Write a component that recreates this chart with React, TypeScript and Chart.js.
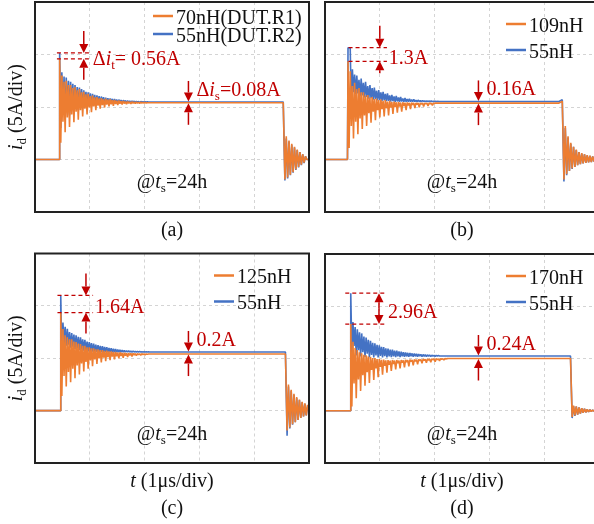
import React, { useEffect, useRef } from 'react';
import { Chart, registerables } from 'chart.js';

Chart.register(...registerables);

const ORANGE = '#ED7D31';
const BLUE = '#4472C4';
const RED = '#C00000';
const INK = '#111111';
const SERIF = '"Liberation Serif", "Times New Roman", serif';
const FONT_SIZE = 20;

// Switching instants of the drain-current pulse, μs (panels a–d)
const turnOnTimes = [0.44, 0.41, 0.46, 0.46];
const turnOffTimes = [4.54, 4.34, 4.58, 4.49];

// 55nH reference: first turn-on peak (A) and gap down to the peak of the other trace
const bluePeaks = [10.15, 10.65, 11.0, 11.25];
const peakGaps = [0.56, 1.3, 1.64, 2.96];

// 55nH reference: on-state plateau (A) and gap down to the plateau of the other trace
const blueSteady = [5.48, 5.53, 5.6, 5.24];
const steadyGaps = [0.08, 0.16, 0.2, 0.24];

// Level right before turn-off (small overshoot in panel b)
const orangePreOff = [5.4, 5.55, 5.4, 5.0];
const bluePreOff = [5.48, 5.7, 5.6, 5.24];
const blueHold = [0, 0.04, 0, 0];

const legendNames = [
  ['70nH(DUT.R1)', '55nH(DUT.R2)'],
  ['109nH', '55nH'],
  ['125nH', '55nH'],
  ['170nH', '55nH'],
];
const captions = ['(a)', '(b)', '(c)', '(d)'];

// Turn-on ringing: successive maxima (Hi) and minima (Lo), A
const aOrangeHi = [8.0, 7.4, 7.5, 7.1, 7.1, 6.8, 6.9, 6.6, 6.7, 6.4, 6.45, 6.2, 6.25, 6.05, 6.1, 5.92, 5.95, 5.82, 5.85, 5.74, 5.8, 5.7, 5.74, 5.65, 5.68, 5.6, 5.62, 5.56, 5.57, 5.52, 5.53, 5.49, 5.5, 5.46, 5.47, 5.44, 5.45, 5.42, 5.43, 5.41];
const aOrangeLo = [1.6, 3.6, 2.6, 4.0, 3.1, 4.3, 3.55, 4.55, 3.8, 4.7, 4.1, 4.85, 4.3, 4.95, 4.5, 5.05, 4.7, 5.12, 4.85, 5.18, 4.95, 5.22, 5.05, 5.26, 5.12, 5.29, 5.18, 5.31, 5.23, 5.33, 5.27, 5.35, 5.3, 5.36, 5.33, 5.37, 5.35, 5.38, 5.37, 5.39];
const aBlueHi = [8.3, 7.9, 7.8, 7.5, 7.4, 7.2, 7.1, 6.9, 6.85, 6.7, 6.6, 6.45, 6.4, 6.3, 6.25, 6.15, 6.1, 6.03, 6.0, 5.93, 5.9, 5.85, 5.82, 5.78, 5.76, 5.72, 5.7, 5.66, 5.65, 5.62, 5.6, 5.58, 5.57, 5.55, 5.54, 5.52, 5.52, 5.5, 5.5, 5.49];
const aBlueLo = [3.0, 4.5, 3.8, 4.8, 4.2, 5.0, 4.5, 5.1, 4.7, 5.2, 4.85, 5.25, 4.95, 5.3, 5.05, 5.33, 5.12, 5.36, 5.18, 5.38, 5.23, 5.4, 5.27, 5.42, 5.3, 5.43, 5.33, 5.44, 5.36, 5.45, 5.38, 5.46, 5.4, 5.46, 5.42, 5.47, 5.44, 5.47, 5.45, 5.47];

const bOrangeHi = [8.4, 7.0, 7.3, 6.7, 6.8, 6.4, 6.4, 6.1, 6.15, 5.9, 5.95, 5.75, 5.8, 5.65, 5.72, 5.58, 5.65, 5.52, 5.58, 5.48, 5.52, 5.45, 5.48, 5.42, 5.45, 5.41, 5.43, 5.4, 5.41, 5.39, 5.4, 5.38, 5.39, 5.38, 5.38, 5.37, 5.38, 5.37, 5.37, 5.37];
const bOrangeLo = [1.1, 3.2, 2.0, 3.6, 2.4, 3.9, 2.9, 4.2, 3.2, 4.4, 3.5, 4.55, 3.75, 4.7, 4.0, 4.8, 4.1, 4.88, 4.2, 4.95, 4.35, 5.0, 4.45, 5.05, 4.55, 5.1, 4.7, 5.15, 4.8, 5.2, 4.9, 5.23, 4.98, 5.26, 5.05, 5.29, 5.1, 5.31, 5.15, 5.33];
const bBlueHi = [8.6, 8.1, 8.0, 7.6, 7.7, 7.3, 7.4, 7.0, 7.1, 6.8, 6.85, 6.55, 6.6, 6.4, 6.45, 6.25, 6.3, 6.1, 6.15, 6.0, 6.05, 5.9, 5.95, 5.82, 5.85, 5.76, 5.78, 5.7, 5.72, 5.65, 5.66, 5.61, 5.62, 5.58, 5.59, 5.56, 5.57, 5.55, 5.55, 5.54];
const bBlueLo = [5.0, 6.4, 6.2, 6.3, 6.0, 6.1, 5.9, 5.95, 5.8, 5.85, 5.7, 5.75, 5.62, 5.68, 5.58, 5.62, 5.55, 5.58, 5.52, 5.55, 5.5, 5.53, 5.5, 5.52, 5.5, 5.51, 5.5, 5.51, 5.5, 5.51, 5.5, 5.51, 5.51, 5.52, 5.52, 5.52, 5.52, 5.53, 5.53, 5.53];

const cOrangeHi = [7.8, 7.2, 7.0, 6.8, 6.8, 6.6, 6.55, 6.4, 6.35, 6.2, 6.2, 6.05, 6.05, 5.95, 5.95, 5.85, 5.85, 5.77, 5.78, 5.7, 5.72, 5.65, 5.66, 5.6, 5.61, 5.56, 5.57, 5.52, 5.53, 5.49, 5.5, 5.47, 5.47, 5.45, 5.45, 5.43, 5.43, 5.42, 5.42, 5.41];
const cOrangeLo = [1.4, 3.3, 2.3, 3.7, 2.7, 4.0, 3.1, 4.3, 3.45, 4.5, 3.75, 4.65, 4.0, 4.8, 4.25, 4.9, 4.45, 4.98, 4.6, 5.05, 4.72, 5.1, 4.82, 5.15, 4.9, 5.19, 4.98, 5.22, 5.05, 5.25, 5.12, 5.28, 5.18, 5.31, 5.24, 5.33, 5.29, 5.35, 5.33, 5.37];
const cBlueHi = [8.4, 8.0, 7.8, 7.5, 7.4, 7.25, 7.2, 7.05, 7.0, 6.8, 6.75, 6.6, 6.55, 6.45, 6.4, 6.3, 6.25, 6.18, 6.15, 6.08, 6.05, 5.98, 5.95, 5.9, 5.87, 5.82, 5.8, 5.77, 5.75, 5.72, 5.71, 5.69, 5.68, 5.66, 5.65, 5.64, 5.63, 5.62, 5.62, 5.61];
const cBlueLo = [5.0, 6.4, 6.2, 6.3, 6.0, 6.1, 5.9, 5.95, 5.8, 5.85, 5.72, 5.76, 5.66, 5.7, 5.62, 5.65, 5.6, 5.62, 5.58, 5.6, 5.57, 5.58, 5.57, 5.58, 5.57, 5.58, 5.58, 5.58, 5.58, 5.59, 5.59, 5.59, 5.59, 5.6, 5.6, 5.6, 5.6, 5.6, 5.6, 5.6];

const dOrangeHi = [6.6, 6.0, 5.8, 5.6, 5.5, 5.35, 5.3, 5.2, 5.15, 5.05, 5.05, 4.95, 4.95, 4.88, 4.9, 4.82, 4.85, 4.8, 4.85, 4.8, 4.85, 4.8, 4.85, 4.82, 4.87, 4.84, 4.88, 4.86, 4.9, 4.88, 4.92, 4.9, 4.94, 4.92, 4.95, 4.94, 4.97, 4.96, 4.98, 4.97, 4.99, 4.98, 5.0, 4.99];
const dOrangeLo = [0.4, 2.6, 1.2, 3.0, 1.9, 3.4, 2.4, 3.7, 2.65, 3.9, 2.95, 4.05, 3.2, 4.2, 3.45, 4.3, 3.65, 4.4, 3.8, 4.48, 3.95, 4.55, 4.05, 4.6, 4.15, 4.65, 4.25, 4.7, 4.35, 4.74, 4.45, 4.78, 4.55, 4.82, 4.6, 4.85, 4.65, 4.88, 4.7, 4.9, 4.78, 4.93, 4.85, 4.95];
const dBlueHi = [8.5, 8.0, 7.8, 7.5, 7.4, 7.1, 7.0, 6.8, 6.7, 6.5, 6.45, 6.3, 6.25, 6.12, 6.1, 5.98, 5.95, 5.86, 5.85, 5.76, 5.75, 5.67, 5.65, 5.6, 5.58, 5.54, 5.52, 5.49, 5.47, 5.44, 5.42, 5.4, 5.38, 5.36, 5.35, 5.33, 5.32, 5.3, 5.3, 5.28];
const dBlueLo = [5.6, 6.2, 5.3, 5.8, 5.2, 5.6, 5.15, 5.45, 5.1, 5.35, 5.1, 5.3, 5.1, 5.25, 5.1, 5.22, 5.1, 5.2, 5.12, 5.2, 5.13, 5.2, 5.14, 5.2, 5.15, 5.2, 5.16, 5.21, 5.17, 5.21, 5.18, 5.22, 5.18, 5.22, 5.19, 5.22, 5.2, 5.23, 5.2, 5.23];

// Turn-off ringing, alternating minima and maxima, A
const aOrangeOff = [-1.9, 2.2, -1.7, 1.8, -1.45, 1.5, -1.2, 1.2, -0.95, 0.95, -0.7, 0.7, -0.5, 0.5, -0.3, 0.3];
const aBlueOff = [-2.0, 2.0, -1.8, 1.7, -1.5, 1.4, -1.25, 1.15, -1.0, 0.9, -0.75, 0.7, -0.55, 0.5, -0.35, 0.3];
const bOrangeOff = [-1.9, 3.2, -1.4, 2.2, -1.1, 1.6, -0.85, 1.2, -0.7, 0.95, -0.55, 0.7, -0.45, 0.6, -0.38, 0.5, -0.32, 0.42, -0.28, 0.36, -0.24, 0.3, -0.2, 0.25];
const bBlueOff = [-2.1, 3.0, -1.5, 2.1, -1.1, 1.5, -0.9, 1.2, -0.7, 0.9, -0.55, 0.7, -0.45, 0.55, -0.38, 0.48, -0.32, 0.4, -0.28, 0.34, -0.24, 0.28, -0.2, 0.24];
const cOrangeOff = [-1.9, 2.5, -1.6, 2.0, -1.3, 1.6, -1.1, 1.3, -0.9, 1.05, -0.7, 0.85, -0.55, 0.7, -0.45, 0.55];
const cBlueOff = [-2.4, 2.3, -1.7, 1.9, -1.35, 1.5, -1.1, 1.2, -0.9, 1.0, -0.7, 0.8, -0.55, 0.65, -0.45, 0.5];
const dOrangeOff = [-0.6, 0.5, -0.45, 0.42, -0.36, 0.32, -0.28, 0.25, -0.2, 0.18, -0.15, 0.13, -0.1, 0.1, -0.08, 0.07, -0.05, 0.05];
const dBlueOff = [-0.7, 0.45, -0.5, 0.4, -0.38, 0.32, -0.28, 0.25, -0.2, 0.18, -0.15, 0.13, -0.1, 0.1, -0.08, 0.07, -0.05, 0.05];

const ringHi = [[aOrangeHi, aBlueHi], [bOrangeHi, bBlueHi], [cOrangeHi, cBlueHi], [dOrangeHi, dBlueHi]];
const ringLo = [[aOrangeLo, aBlueLo], [bOrangeLo, bBlueLo], [cOrangeLo, cBlueLo], [dOrangeLo, dBlueLo]];
const offRing = [[aOrangeOff, aBlueOff], [bOrangeOff, bBlueOff], [cOrangeOff, cBlueOff], [dOrangeOff, dBlueOff]];

// Sampling steps of the ringing, μs
const RING_STEP = 0.02;
const OFF_STEP = 0.025;

type Pt = { x: number; y: number };

// Piecewise waveform: off-state, step to the peak, ringing, plateau, turn-off ringing
function buildTrace(
  tOn: number, tOff: number, peak: number, hold: number,
  hi: number[], lo: number[], steady: number, preOff: number, off: number[]
): Pt[] {
  const pts: Pt[] = [{ x: 0, y: 0 }, { x: tOn, y: 0 }];
  let t = tOn + 0.01;
  pts.push({ x: t, y: peak });
  if (hold) { t += hold; pts.push({ x: t, y: peak }); }
  const n = Math.max(hi.length, lo.length);
  for (let k = 0; k < n; k++) {
    if (k < lo.length) { t += RING_STEP; pts.push({ x: t, y: lo[k] }); }
    if (k < hi.length) { t += RING_STEP; pts.push({ x: t, y: hi[k] }); }
  }
  pts.push({ x: t + RING_STEP, y: steady });
  pts.push({ x: tOff - 0.07, y: steady });
  pts.push({ x: tOff - 0.01, y: preOff });
  let tt = tOff + 0.02;
  for (const v of off) { pts.push({ x: tt, y: v }); tt += OFF_STEP; }
  pts.push({ x: tt, y: 0 });
  pts.push({ x: 5.3, y: 0 });
  return pts;
}

type Run = { t: string; it?: boolean; sub?: boolean };

function fontOf(r: Run, size: number) {
  const s = r.sub ? Math.round(size * 0.66) : size;
  return `${r.it ? 'italic ' : ''}${s}px ${SERIF}`;
}
function runsWidth(ctx: CanvasRenderingContext2D, runs: Run[], size: number) {
  let w = 0;
  for (const r of runs) { ctx.font = fontOf(r, size); w += ctx.measureText(r.t).width; }
  return w;
}
function drawRuns(ctx: CanvasRenderingContext2D, runs: Run[], x: number, y: number, size: number, color: string, align: 'left' | 'center' = 'left') {
  let cx = align === 'center' ? x - runsWidth(ctx, runs, size) / 2 : x;
  ctx.fillStyle = color;
  ctx.textAlign = 'left';
  ctx.textBaseline = 'alphabetic';
  for (const r of runs) {
    ctx.font = fontOf(r, size);
    ctx.fillText(r.t, cx, r.sub ? y + size * 0.22 : y);
    cx += ctx.measureText(r.t).width;
  }
}
function arrow(ctx: CanvasRenderingContext2D, x: number, tail: number, tip: number) {
  const dir = Math.sign(tip - tail);
  const head = 9;
  const half = 4.5;
  const base = tip - dir * head;
  ctx.beginPath(); ctx.moveTo(x, tail); ctx.lineTo(x, base); ctx.stroke();
  ctx.beginPath(); ctx.moveTo(x, tip); ctx.lineTo(x - half, base); ctx.lineTo(x + half, base); ctx.closePath(); ctx.fill();
}

type PanelSpec = {
  idx: number;
  left: number; top: number; width: number; height: number;
  pad: { left: number; top: number; right: number; bottom: number };
  yTitle: boolean; xTitle: boolean;
  legendInset: number; legendRows: number[];
  arrowT: number; dashFrom: number; upTail: number; doubleArrow: boolean;
};

const STEADY_ARROW_T = 2.8;

const panels: PanelSpec[] = [
  { idx: 0, left: 0, top: 0, width: 320, height: 250, pad: { left: 35, top: 2, right: 11, bottom: 38 }, yTitle: true, xTitle: false, legendInset: 133, legendRows: [14, 32], arrowT: 0.89, dashFrom: 0.4, upTail: 21, doubleArrow: false },
  { idx: 1, left: 316, top: 0, width: 290, height: 250, pad: { left: 9, top: 2, right: 7, bottom: 38 }, yTitle: false, xTitle: false, legendInset: 70, legendRows: [22, 48], arrowT: 1.0, dashFrom: 0.43, upTail: 12, doubleArrow: false },
  { idx: 2, left: 0, top: 250, width: 320, height: 274, pad: { left: 35, top: 3.5, right: 11, bottom: 61 }, yTitle: true, xTitle: true, legendInset: 72, legendRows: [22, 48], arrowT: 0.93, dashFrom: 0.41, upTail: 21, doubleArrow: false },
  { idx: 3, left: 316, top: 250, width: 290, height: 274, pad: { left: 9, top: 4, right: 7, bottom: 61 }, yTitle: false, xTitle: true, legendInset: 70, legendRows: [22, 48], arrowT: 0.985, dashFrom: 0.37, upTail: 21, doubleArrow: true },
];

function decorPlugin(spec: PanelSpec) {
  const i = spec.idx;
  return {
    id: 'panelDecor',
    afterDraw(chart: any) {
      const ctx: CanvasRenderingContext2D = chart.ctx;
      const ca = chart.chartArea;
      const xs = chart.scales.x;
      const ys = chart.scales.y;
      const cx = (ca.left + ca.right) / 2;
      ctx.save();

      // frame
      ctx.setLineDash([]);
      ctx.strokeStyle = '#222222';
      ctx.lineWidth = 2;
      ctx.strokeRect(ca.left, ca.top, ca.right - ca.left, ca.bottom - ca.top);

      // legend
      const lx = ca.right - spec.legendInset;
      [ORANGE, BLUE].forEach((col, k) => {
        const ly = ca.top + spec.legendRows[k];
        ctx.strokeStyle = col;
        ctx.lineWidth = 2.5;
        ctx.beginPath(); ctx.moveTo(lx - 23, ly); ctx.lineTo(lx - 3, ly); ctx.stroke();
        drawRuns(ctx, [{ t: legendNames[i][k] }], lx, ly + 7.5, FONT_SIZE, INK);
      });

      // peak difference marker
      const bp = bluePeaks[i];
      const op = bp - peakGaps[i];
      const yB = ys.getPixelForValue(bp);
      const yO = ys.getPixelForValue(op);
      const xA = xs.getPixelForValue(spec.arrowT);
      const xD0 = xs.getPixelForValue(spec.dashFrom);
      const xD1 = xs.getPixelForValue(spec.arrowT + 0.13);
      ctx.strokeStyle = RED;
      ctx.fillStyle = RED;
      ctx.lineWidth = 1.2;
      ctx.setLineDash([4, 3]);
      ctx.beginPath();
      ctx.moveTo(xD0, yB); ctx.lineTo(xD1, yB);
      ctx.moveTo(xD0, yO); ctx.lineTo(xD1, yO);
      ctx.stroke();
      ctx.setLineDash([]);
      ctx.lineWidth = 1.5;
      if (spec.doubleArrow) {
        const mid = (yB + yO) / 2;
        arrow(ctx, xA, mid, yB);
        arrow(ctx, xA, mid, yO);
      } else {
        arrow(ctx, xA, yB - 22, yB);
        arrow(ctx, xA, yO + spec.upTail, yO);
      }
      const peakRuns: Run[] = i === 0
        ? [{ t: 'Δ' }, { t: 'i', it: true }, { t: 't', sub: true }, { t: `= ${peakGaps[i]}A` }]
        : [{ t: `${peakGaps[i]}A` }];
      drawRuns(ctx, peakRuns, xA + 9, (yB + yO) / 2 + 9, FONT_SIZE, RED);

      // plateau difference marker
      const bs = blueSteady[i];
      const os = bs - steadyGaps[i];
      const yBs = ys.getPixelForValue(bs);
      const yOs = ys.getPixelForValue(os);
      const xS = xs.getPixelForValue(STEADY_ARROW_T);
      arrow(ctx, xS, yBs - 21, yBs - 0.5);
      arrow(ctx, xS, yOs + 22, yOs + 0.5);
      const steadyRuns: Run[] = i === 0
        ? [{ t: 'Δ' }, { t: 'i', it: true }, { t: 's', sub: true }, { t: `=${steadyGaps[i]}A` }]
        : [{ t: `${steadyGaps[i]}A` }];
      drawRuns(ctx, steadyRuns, xS + 8, yBs - 6, FONT_SIZE, RED);

      // ageing time note
      drawRuns(ctx, [{ t: '@' }, { t: 't', it: true }, { t: 's', sub: true }, { t: '=24h' }], cx, ca.top + 186, FONT_SIZE, INK, 'center');

      // axis titles and caption
      if (spec.yTitle) {
        ctx.save();
        ctx.translate(22, (ca.top + ca.bottom) / 2);
        ctx.rotate(-Math.PI / 2);
        drawRuns(ctx, [{ t: 'i', it: true }, { t: 'd', sub: true }, { t: ' (5A/div)' }], 0, 0, FONT_SIZE, INK, 'center');
        ctx.restore();
      }
      if (spec.xTitle) {
        drawRuns(ctx, [{ t: 't', it: true }, { t: ' (1μs/div)' }], cx, ca.bottom + 23.5, FONT_SIZE, INK, 'center');
        drawRuns(ctx, [{ t: captions[i] }], cx, ca.bottom + 51, FONT_SIZE, INK, 'center');
      } else {
        drawRuns(ctx, [{ t: captions[i] }], cx, ca.bottom + 24, FONT_SIZE, INK, 'center');
      }
      ctx.restore();
    },
  };
}

function Panel({ spec }: { spec: PanelSpec }) {
  const ref = useRef<HTMLCanvasElement>(null);
  useEffect(() => {
    const i = spec.idx;
    const tOn = turnOnTimes[i];
    const tOff = turnOffTimes[i];
    const bp = bluePeaks[i];
    const bs = blueSteady[i];
    const orangeTrace = buildTrace(tOn, tOff, bp - peakGaps[i], 0, ringHi[i][0], ringLo[i][0], bs - steadyGaps[i], orangePreOff[i], offRing[i][0]);
    const blueTrace = buildTrace(tOn, tOff, bp, blueHold[i], ringHi[i][1], ringLo[i][1], bs, bluePreOff[i], offRing[i][1]);
    const gridOpts = { color: '#d4d4d4', lineWidth: 1, drawTicks: false };
    const borderOpts = { display: false, dash: [3, 3] };
    const chart = new Chart(ref.current as HTMLCanvasElement, {
      type: 'line',
      data: {
        datasets: [
          { label: legendNames[i][0], data: orangeTrace, borderColor: ORANGE, borderWidth: 1.6, pointRadius: 0, tension: 0, fill: false, borderJoinStyle: 'bevel' },
          { label: legendNames[i][1], data: blueTrace, borderColor: BLUE, borderWidth: 1.6, pointRadius: 0, tension: 0, fill: false, borderJoinStyle: 'bevel' },
        ],
      },
      options: {
        animation: false,
        responsive: false,
        devicePixelRatio: 1,
        events: [],
        layout: { padding: spec.pad },
        plugins: { legend: { display: false }, tooltip: { enabled: false } },
        scales: {
          x: { type: 'linear', min: 0, max: 5, ticks: { display: false, stepSize: 1 }, grid: gridOpts, border: borderOpts },
          y: { type: 'linear', min: -5, max: 15, ticks: { display: false, stepSize: 5 }, grid: gridOpts, border: borderOpts },
        },
      } as any,
      plugins: [decorPlugin(spec)],
    });
    return () => chart.destroy();
  }, [spec]);
  return (
    <canvas
      ref={ref}
      width={spec.width}
      height={spec.height}
      style={{ position: 'absolute', left: spec.left, top: spec.top, width: spec.width, height: spec.height }}
    />
  );
}

export default function App() {
  return (
    <div style={{ position: 'absolute', left: 0, top: 0, width: 594, height: 524, overflow: 'hidden', background: '#ffffff' }}>
      {panels.map((p) => <Panel key={p.idx} spec={p} />)}
    </div>
  );
}
